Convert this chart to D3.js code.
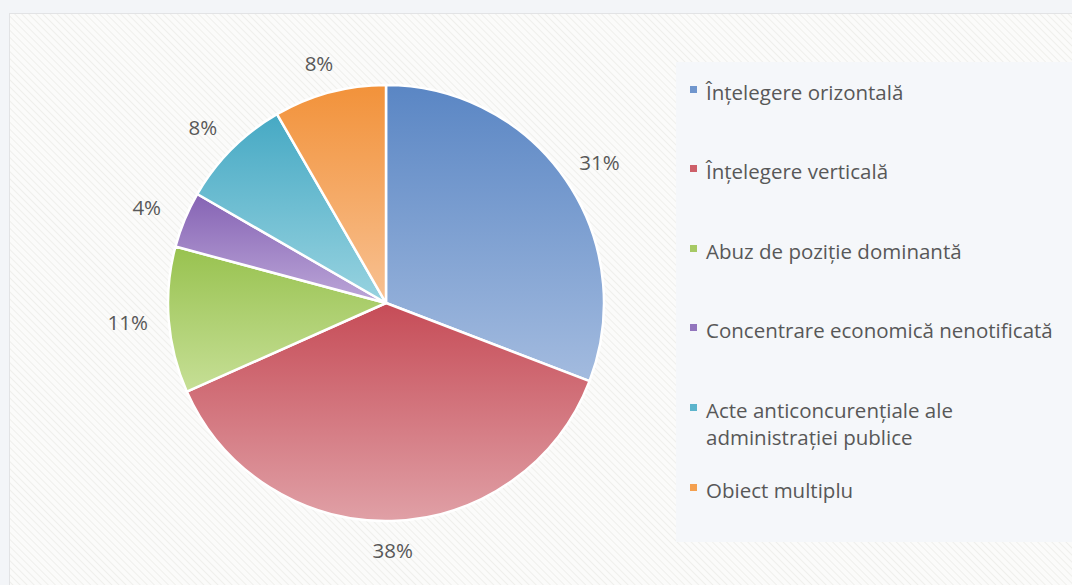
<!DOCTYPE html>
<html><head><meta charset="utf-8">
<script src="https://cdn.jsdelivr.net/npm/d3@7"></script>
<style>html,body{margin:0;padding:0;background:#f3f5f8;overflow:hidden}</style>
</head><body>
<svg id="c" width="1072" height="585"></svg>
<script>
const categories = ["Înțelegere orizontală","Înțelegere verticală","Abuz de poziție dominantă","Concentrare economică nenotificată","Acte anticoncurențiale ale administrației publice","Obiect multiplu"];
// slice sizes (shares out of 120 cases)
const values = [37, 45, 13, 5, 10, 10];
const percentLabels = ["31%","38%","11%","4%","8%","8%"];
const legendLines = [["Înțelegere orizontală"],["Înțelegere verticală"],["Abuz de poziție dominantă"],["Concentrare economică nenotificată"],["Acte anticoncurențiale ale","administrației publice"],["Obiect multiplu"]];
const topColors = ["#5a86c4","#c64c57","#98c24f","#8563b4","#46a9c4","#f2923a"];
const bottomColors = ["#a3bbdf","#e0a0a6","#c6df96","#bca6d8","#98d3e0","#f8c192"];
const legendColors = ["#7096cd","#cd5f69","#a6c964","#9275bd","#5cb4cc","#f4a04f"];

const svg = d3.select("#c");
const defs = svg.append("defs");
const pat = defs.append("pattern").attr("id","hatch").attr("patternUnits","userSpaceOnUse")
  .attr("width",5).attr("height",5).attr("patternTransform","rotate(-45)");
pat.append("rect").attr("width",5).attr("height",5).attr("fill","#fbfbfa");
pat.append("line").attr("x1",0).attr("y1",0).attr("x2",0).attr("y2",5).attr("stroke","#efefec").attr("stroke-width",2);

svg.append("rect").attr("x",9.5).attr("y",13.5).attr("width",1080).attr("height",600)
  .attr("fill","url(#hatch)").attr("stroke","#e2e3e5");

// legend panel
svg.append("rect").attr("x",676).attr("y",62).attr("width",400).attr("height",480).attr("fill","#f5f7fa");

const cx = 386, cy = 303, R = 218;
const pie = d3.pie().sort(null).value(d=>d)(values);
const arc = d3.arc().innerRadius(0).outerRadius(R);

function arcBox(p){
  let ys=[0];
  for(let t=0;t<=100;t++){const a=p.startAngle+(p.endAngle-p.startAngle)*t/100; ys.push(-Math.cos(a)*R);}
  return [d3.min(ys), d3.max(ys)];
}
pie.forEach((p,i)=>{
  const b = arcBox(p);
  const g = defs.append("linearGradient").attr("id","g"+i).attr("gradientUnits","userSpaceOnUse")
    .attr("x1",0).attr("y1",b[0]).attr("x2",0).attr("y2",b[1]);
  g.append("stop").attr("offset",0).attr("stop-color",topColors[i]);
  g.append("stop").attr("offset",1).attr("stop-color",bottomColors[i]);
});
const gp = svg.append("g").attr("transform",`translate(${cx},${cy})`);
gp.selectAll("path").data(pie).join("path").attr("d",arc)
  .attr("fill",(d,i)=>`url(#g${i})`).attr("stroke","#fff").attr("stroke-width",2.5).attr("stroke-linejoin","round");

// outside-end labels: box edge sits just outside the pie
const rx = 259, ry = 248;
gp.selectAll("text").data(pie).join("text")
  .attr("transform",d=>{const a=(d.startAngle+d.endAngle)/2; return `translate(${rx*Math.sin(a)},${-ry*Math.cos(a)})`;})
  .attr("text-anchor","middle").attr("dy","0.35em")
  .attr("font-family","'Open Sans', sans-serif").attr("font-size",20.5).attr("fill","#585858")
  .text((d,i)=>percentLabels[i]);

const rowY = [93,172,252,331,411,491];
const lg = svg.append("g");
legendLines.forEach((lines,i)=>{
  lg.append("rect").attr("x",690).attr("y",rowY[i]-7).attr("width",7).attr("height",7).attr("fill",legendColors[i]);
  const t = lg.append("text").attr("x",706).attr("y",rowY[i])
    .attr("font-family","'Open Sans', sans-serif").attr("font-size",20.5).attr("fill","#585858");
  lines.forEach((l,j)=>t.append("tspan").attr("x",706).attr("dy",j==0?"0.35em":"27").text(l));
});
</script>
</body></html>
